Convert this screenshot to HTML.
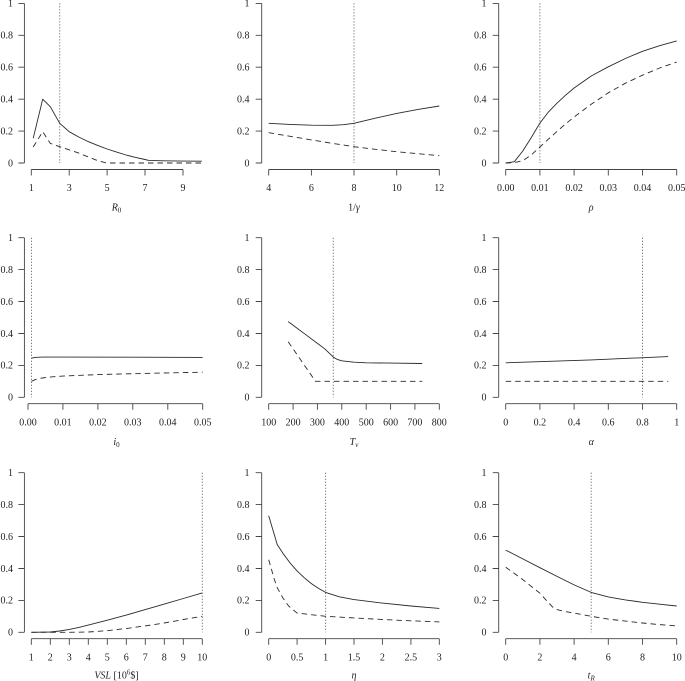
<!DOCTYPE html>
<html><head><meta charset="utf-8"><style>
html,body{margin:0;padding:0;background:#fff;}
svg{display:block;}
text{font-family:"Liberation Serif",serif;font-size:10px;fill:#222;}
.ax{stroke:#444;stroke-width:0.9;fill:none;}
.s{stroke:#2a2a2a;stroke-width:0.9;fill:none;stroke-linejoin:round;}
.d{stroke:#2a2a2a;stroke-width:0.9;fill:none;stroke-dasharray:5.5 4;}
.v{stroke:#555;stroke-width:1;fill:none;stroke-dasharray:1 2;}
.yl{text-anchor:end;}
.xl{text-anchor:middle;}
.it{font-style:italic;}
</style></head><body>
<svg width="685" height="681" viewBox="0 0 685 681" xmlns="http://www.w3.org/2000/svg">
<rect width="685" height="681" fill="#fff"/>

<!-- ============ ROW 1 ============ -->
<!-- Panel 1 R0 -->
<path class="ax" d="M24.4 3.4V163 M24.4 163H18.4 M24.4 131.1H18.4 M24.4 99.2H18.4 M24.4 67.2H18.4 M24.4 35.3H18.4 M24.4 3.4H18.4"/>
<g class="yl"><text x="13" y="166.3">0</text><text x="13" y="134.4">0.2</text><text x="13" y="102.5">0.4</text><text x="13" y="70.5">0.6</text><text x="13" y="38.6">0.8</text><text x="13" y="6.7">1</text></g>
<path class="ax" d="M31.3 169.5H183 M31.3 169.5V175.5 M69.2 169.5V175.5 M107.1 169.5V175.5 M145 169.5V175.5 M183 169.5V175.5"/>
<g class="xl"><text x="31.3" y="191">1</text><text x="69.2" y="191">3</text><text x="107.1" y="191">5</text><text x="145" y="191">7</text><text x="183" y="191">9</text></g>
<text class="xl" x="116.5" y="210.5"><tspan class="it">R</tspan><tspan font-size="7" dy="2">0</tspan></text>
<path class="v" d="M59.7 3.4V163"/>
<polyline class="s" points="33.2,138.3 42.7,99.2 50.3,106.7 59.7,123.3 69.2,131.7 78.7,137 88.2,141.6 97.7,145.4 107.1,149 116.6,152.1 126.1,155 135.6,157.4 145,159.5 148.8,160.4 164,160.8 183,161.1 201.9,161.2"/>
<polyline class="d" points="33.2,147 42.7,131.7 50.3,143.4 59.7,146.7 69.2,149.8 78.7,153.1 88.2,156.9 97.7,160.6 105.3,162.7 107.1,163 201.9,163"/>

<!-- Panel 2 1/gamma -->
<path class="ax" d="M261.7 3.4V163 M261.7 163H255.7 M261.7 131.1H255.7 M261.7 99.2H255.7 M261.7 67.2H255.7 M261.7 35.3H255.7 M261.7 3.4H255.7"/>
<g class="yl"><text x="249.5" y="166.3">0</text><text x="249.5" y="134.4">0.2</text><text x="249.5" y="102.5">0.4</text><text x="249.5" y="70.5">0.6</text><text x="249.5" y="38.6">0.8</text><text x="249.5" y="6.7">1</text></g>
<path class="ax" d="M268.7 169.5H439.3 M268.7 169.5V175.5 M311.4 169.5V175.5 M354 169.5V175.5 M396.7 169.5V175.5 M439.3 169.5V175.5"/>
<g class="xl"><text x="268.7" y="191">4</text><text x="311.4" y="191">6</text><text x="354" y="191">8</text><text x="396.7" y="191">10</text><text x="439.3" y="191">12</text></g>
<text class="xl" x="354" y="210.5">1/<tspan class="it">γ</tspan></text>
<path class="v" d="M354 3.4V163"/>
<polyline class="s" points="268.7,123.3 290,124.4 311.4,125.2 332.7,125.3 343.4,124.7 354,123.3 375.3,118.2 396.7,113.4 418,109.4 439.3,106"/>
<polyline class="d" points="268.7,132.7 290,136.3 311.4,139.9 332.7,143.4 354,146.7 375.3,149.3 396.7,151.7 418,153.7 439.3,155.7"/>

<!-- Panel 3 rho -->
<path class="ax" d="M498.7 3.4V163 M498.7 163H492.7 M498.7 131.1H492.7 M498.7 99.2H492.7 M498.7 67.2H492.7 M498.7 35.3H492.7 M498.7 3.4H492.7"/>
<g class="yl"><text x="486.5" y="166.3">0</text><text x="486.5" y="134.4">0.2</text><text x="486.5" y="102.5">0.4</text><text x="486.5" y="70.5">0.6</text><text x="486.5" y="38.6">0.8</text><text x="486.5" y="6.7">1</text></g>
<path class="ax" d="M505.7 169.5H676.7 M505.7 169.5V175.5 M539.9 169.5V175.5 M574.1 169.5V175.5 M608.3 169.5V175.5 M642.5 169.5V175.5 M676.7 169.5V175.5"/>
<g class="xl"><text x="505.7" y="191">0.00</text><text x="539.9" y="191">0.01</text><text x="574.1" y="191">0.02</text><text x="608.3" y="191">0.03</text><text x="642.5" y="191">0.04</text><text x="676.7" y="191">0.05</text></g>
<text class="xl it" x="591.2" y="210.5">ρ</text>
<path class="v" d="M539.9 3.4V163"/>
<polyline class="s" points="505.7,163 514.3,161.7 522.8,151 531.3,137.5 539.9,123.1 548.5,111.9 557,103.2 565.6,95.2 574.1,88 591.2,76 608.3,66.8 625.4,58.5 642.5,51.3 659.6,45.7 676.7,40.9"/>
<polyline class="d" points="505.7,163 514.3,162.7 522.8,160.6 531.3,155 539.9,147 548.5,139.1 557,131.4 565.6,123.9 574.1,117 591.2,104.3 608.3,92.8 625.4,83.2 642.5,75.2 659.6,68 676.7,62.1"/>

<!-- ============ ROW 2 ============ -->
<!-- Panel 4 i0 -->
<path class="ax" d="M24.4 237.7V397.3 M24.4 397.3H18.4 M24.4 365.4H18.4 M24.4 333.5H18.4 M24.4 301.5H18.4 M24.4 269.6H18.4 M24.4 237.7H18.4"/>
<g class="yl"><text x="13" y="400.6">0</text><text x="13" y="368.7">0.2</text><text x="13" y="336.8">0.4</text><text x="13" y="304.8">0.6</text><text x="13" y="272.9">0.8</text><text x="13" y="241">1</text></g>
<path class="ax" d="M28 403.7H202.7 M28 403.7V409.7 M62.9 403.7V409.7 M97.9 403.7V409.7 M132.8 403.7V409.7 M167.8 403.7V409.7 M202.7 403.7V409.7"/>
<g class="xl"><text x="28" y="425.6">0.00</text><text x="62.9" y="425.6">0.01</text><text x="97.9" y="425.6">0.02</text><text x="132.8" y="425.6">0.03</text><text x="167.8" y="425.6">0.04</text><text x="202.7" y="425.6">0.05</text></g>
<text class="xl" x="116.5" y="445"><tspan class="it">i</tspan><tspan font-size="7" dy="2">0</tspan></text>
<path class="v" d="M31.5 237.7V397.3"/>
<polyline class="s" points="31.5,358.2 35,357.4 42,357.1 62.9,357.1 132.8,357.2 202.7,357.4"/>
<polyline class="d" points="31.5,381.3 35,379.7 38.5,378.6 45.5,377.5 54.2,376.7 62.9,376.1 80.4,375.3 97.9,374.6 132.8,373.7 167.8,372.9 202.7,372.2"/>

<!-- Panel 5 Tv -->
<path class="ax" d="M261.7 237.7V397.3 M261.7 397.3H255.7 M261.7 365.4H255.7 M261.7 333.5H255.7 M261.7 301.5H255.7 M261.7 269.6H255.7 M261.7 237.7H255.7"/>
<g class="yl"><text x="249.5" y="400.6">0</text><text x="249.5" y="368.7">0.2</text><text x="249.5" y="336.8">0.4</text><text x="249.5" y="304.8">0.6</text><text x="249.5" y="272.9">0.8</text><text x="249.5" y="241">1</text></g>
<path class="ax" d="M268.7 403.7H439.3 M268.7 403.7V409.7 M293.1 403.7V409.7 M317.4 403.7V409.7 M341.8 403.7V409.7 M366.2 403.7V409.7 M390.6 403.7V409.7 M414.9 403.7V409.7 M439.3 403.7V409.7"/>
<g class="xl"><text x="268.7" y="425.6">100</text><text x="293.1" y="425.6">200</text><text x="317.4" y="425.6">300</text><text x="341.8" y="425.6">400</text><text x="366.2" y="425.6">500</text><text x="390.6" y="425.6">600</text><text x="414.9" y="425.6">700</text><text x="439.3" y="425.6">800</text></g>
<text class="xl" x="354" y="445"><tspan class="it">T</tspan><tspan class="it" font-size="7" dy="2">v</tspan></text>
<path class="v" d="M333.3 237.7V397.3"/>
<polyline class="s" points="288.2,321.6 293.1,325.2 305.3,334.3 317.4,343.4 324.7,348.8 329.6,353.4 333.3,357.1 336.9,359.3 341.8,360.8 354,362.2 366.2,362.8 390.6,363.1 422.2,363.5"/>
<polyline class="d" points="288.2,341.8 315.5,381.3 422.2,381.3"/>

<!-- Panel 6 alpha -->
<path class="ax" d="M498.7 237.7V397.3 M498.7 397.3H492.7 M498.7 365.4H492.7 M498.7 333.5H492.7 M498.7 301.5H492.7 M498.7 269.6H492.7 M498.7 237.7H492.7"/>
<g class="yl"><text x="486.5" y="400.6">0</text><text x="486.5" y="368.7">0.2</text><text x="486.5" y="336.8">0.4</text><text x="486.5" y="304.8">0.6</text><text x="486.5" y="272.9">0.8</text><text x="486.5" y="241">1</text></g>
<path class="ax" d="M505.7 403.7H676.7 M505.7 403.7V409.7 M539.9 403.7V409.7 M574.1 403.7V409.7 M608.3 403.7V409.7 M642.5 403.7V409.7 M676.7 403.7V409.7"/>
<g class="xl"><text x="505.7" y="425.6">0</text><text x="539.9" y="425.6">0.2</text><text x="574.1" y="425.6">0.4</text><text x="608.3" y="425.6">0.6</text><text x="642.5" y="425.6">0.8</text><text x="676.7" y="425.6">1</text></g>
<text class="xl it" x="591.2" y="445">α</text>
<path class="v" d="M642.5 237.7V397.3"/>
<polyline class="s" points="505.7,362.8 591.2,359.9 668.2,356.6"/>
<polyline class="d" points="505.7,381.3 668.2,381.3"/>

<!-- ============ ROW 3 ============ -->
<!-- Panel 7 VSL -->
<path class="ax" d="M24.4 472.7V632.3 M24.4 632.3H18.4 M24.4 600.4H18.4 M24.4 568.5H18.4 M24.4 536.5H18.4 M24.4 504.6H18.4 M24.4 472.7H18.4"/>
<g class="yl"><text x="13" y="635.6">0</text><text x="13" y="603.7">0.2</text><text x="13" y="571.8">0.4</text><text x="13" y="539.8">0.6</text><text x="13" y="507.9">0.8</text><text x="13" y="476">1</text></g>
<path class="ax" d="M31.3 638.7H202.3 M31.3 638.7V644.7 M50.3 638.7V644.7 M69.3 638.7V644.7 M88.3 638.7V644.7 M107.3 638.7V644.7 M126.3 638.7V644.7 M145.3 638.7V644.7 M164.3 638.7V644.7 M183.3 638.7V644.7 M202.3 638.7V644.7"/>
<g class="xl"><text x="31.3" y="660.3">1</text><text x="50.3" y="660.3">2</text><text x="69.3" y="660.3">3</text><text x="88.3" y="660.3">4</text><text x="107.3" y="660.3">5</text><text x="126.3" y="660.3">6</text><text x="145.3" y="660.3">7</text><text x="164.3" y="660.3">8</text><text x="183.3" y="660.3">9</text><text x="202.3" y="660.3">10</text></g>
<text class="xl" x="116.5" y="678.3"><tspan class="it">VSL</tspan> [10<tspan font-size="7" dy="-4">6</tspan><tspan dy="4">$]</tspan></text>
<path class="v" d="M202.3 472.7V632.3"/>
<polyline class="s" points="31.3,632.3 50.3,632 59.8,631 69.3,629.4 78.8,627.4 88.3,625.1 107.3,620.2 126.3,615.1 145.3,609.6 164.3,604.1 183.3,598.5 202.3,592.9"/>
<polyline class="d" points="31.3,632.3 69.3,632.3 88.3,632 107.3,630.7 126.3,628.5 145.3,625.9 164.3,623 183.3,619.5 202.3,616.3"/>

<!-- Panel 8 eta -->
<path class="ax" d="M261.7 472.7V632.3 M261.7 632.3H255.7 M261.7 600.4H255.7 M261.7 568.5H255.7 M261.7 536.5H255.7 M261.7 504.6H255.7 M261.7 472.7H255.7"/>
<g class="yl"><text x="249.5" y="635.6">0</text><text x="249.5" y="603.7">0.2</text><text x="249.5" y="571.8">0.4</text><text x="249.5" y="539.8">0.6</text><text x="249.5" y="507.9">0.8</text><text x="249.5" y="476">1</text></g>
<path class="ax" d="M268.7 638.7H439.3 M268.7 638.7V644.7 M297.1 638.7V644.7 M325.6 638.7V644.7 M354 638.7V644.7 M382.4 638.7V644.7 M410.9 638.7V644.7 M439.3 638.7V644.7"/>
<g class="xl"><text x="268.7" y="660.3">0</text><text x="297.1" y="660.3">0.5</text><text x="325.6" y="660.3">1</text><text x="354" y="660.3">1.5</text><text x="382.4" y="660.3">2</text><text x="410.9" y="660.3">2.5</text><text x="439.3" y="660.3">3</text></g>
<text class="xl it" x="354" y="678.3">η</text>
<path class="v" d="M325.6 472.7V632.3"/>
<polyline class="s" points="268.7,515.8 277.2,544.5 282.9,553.3 290,562.9 297.1,570.9 304.2,577.7 311.4,583.6 318.5,588.4 325.6,592.4 339.8,596.9 354,599.6 382.4,603.1 410.9,606 439.3,608.4"/>
<polyline class="d" points="268.7,559.7 274.4,579.6 277.2,587.6 282.9,598 288.6,606 297.1,613.1 325.6,616.3 354,617.9 382.4,619.5 410.9,620.8 439.3,621.9"/>

<!-- Panel 9 tR -->
<path class="ax" d="M498.7 472.7V632.3 M498.7 632.3H492.7 M498.7 600.4H492.7 M498.7 568.5H492.7 M498.7 536.5H492.7 M498.7 504.6H492.7 M498.7 472.7H492.7"/>
<g class="yl"><text x="486.5" y="635.6">0</text><text x="486.5" y="603.7">0.2</text><text x="486.5" y="571.8">0.4</text><text x="486.5" y="539.8">0.6</text><text x="486.5" y="507.9">0.8</text><text x="486.5" y="476">1</text></g>
<path class="ax" d="M505.7 638.7H676.7 M505.7 638.7V644.7 M539.9 638.7V644.7 M574.1 638.7V644.7 M608.3 638.7V644.7 M642.5 638.7V644.7 M676.7 638.7V644.7"/>
<g class="xl"><text x="505.7" y="660.3">0</text><text x="539.9" y="660.3">2</text><text x="574.1" y="660.3">4</text><text x="608.3" y="660.3">6</text><text x="642.5" y="660.3">8</text><text x="676.7" y="660.3">10</text></g>
<text class="xl" x="591.2" y="678.3"><tspan class="it">t</tspan><tspan class="it" font-size="7" dy="2">R</tspan></text>
<path class="v" d="M591.2 472.7V632.3"/>
<polyline class="s" points="505.7,550.1 522.8,558.9 539.9,567.7 557,576.4 574.1,584.9 591.2,592.4 608.3,596.9 625.4,599.9 642.5,602.3 659.6,604.2 676.7,606"/>
<polyline class="d" points="505.7,567.2 522.8,579.6 539.9,593.2 548.5,602.8 552.7,607.1 557,609.6 565.6,611.6 574.1,613.1 591.2,616.3 608.3,619.1 625.4,621.1 642.5,623 659.6,624.6 676.7,625.9"/>
</svg>
</body></html>
